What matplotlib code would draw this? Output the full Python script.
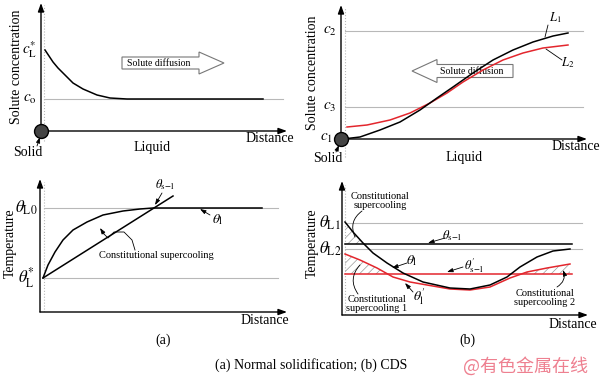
import numpy as np
import matplotlib
matplotlib.use("Agg")
from matplotlib import pyplot as plt
from matplotlib.patches import FancyArrow

plt.rcParams['font.family'] = ['Liberation Serif', 'DejaVu Serif']
plt.rcParams['mathtext.fontset'] = 'stix'
plt.rcParams['hatch.linewidth'] = 0.5

# ---- data (schematic units) ----
# (a) top: solute concentration ahead of interface
tl_dist = [4, 8, 12, 17, 22, 27, 32, 42, 56, 69, 86, 100, 222]
tl_conc = [81, 75, 69, 63, 58, 53, 48, 42, 36, 33, 32, 32, 32]
c_o = 32
c_L = 81

# (b) top: two concentration profiles
tr_dist = [2, 19, 39, 59, 79, 96, 112, 132, 152, 172, 192, 212, 227]
tr_L1 = [0, 2, 9, 17, 29, 41, 52, 66, 79, 89, 97, 103, 106]
tr_dist2 = [6, 26, 49, 69, 89, 106, 122, 142, 162, 182, 202, 227]
tr_L2 = [12, 14, 19, 26, 36, 46, 57, 69, 79, 86, 91, 94]
c_2 = 108
c_3 = 32

# (a) bottom: liquidus temperature vs actual temperature
bl_dist = [3, 8, 15, 23, 33, 47, 63, 83, 100, 113, 222]
bl_liq = [34, 47, 60, 72, 82, 90, 97, 101, 103, 104, 104]
bl_grad_x = [3, 133]
bl_grad_y = [34, 116]
theta_L0 = 104
theta_Ls = 34

# (b) bottom
br_dist = [3, 11, 21, 31, 45, 61, 81, 108, 128, 148, 165, 178, 195, 211, 228]
br_l1 = [93, 83, 72, 62, 52, 42, 33, 27, 26, 30, 38, 48, 58, 64, 66]
br_dist2 = [3, 18, 35, 51, 68, 85, 108, 128, 148, 168, 185, 205, 228]
br_l2 = [61, 55, 47, 38, 33, 30, 26, 25, 28, 37, 43, 47, 51]
theta_L1 = 92
theta_L2 = 66
theta_sl = 71
theta_sl2 = 41

RED = '#e3262d'
GREY = '#b8b8b8'

fig = plt.figure(figsize=(6, 3.81), dpi=100)


def panel(ox, oy, w, h):
    ax = fig.add_axes([ox / 600, (381 - oy) / 381, w / 600, h / 381])
    ax.set_xlim(0, w)
    ax.set_ylim(0, h)
    ax.axis('off')
    ap = dict(arrowstyle='-|>,head_width=0.18,head_length=0.5', lw=1.0,
              color='k', shrinkA=0, shrinkB=0)
    ax.annotate('', xy=(w, 0), xytext=(0, 0), arrowprops=ap, annotation_clip=False)
    ax.annotate('', xy=(0, h), xytext=(0, 0), arrowprops=ap, annotation_clip=False)
    return ax


def lead(ax, p0, p1, rad=0.0, arrow=False):
    st = '-|>,head_width=0.12,head_length=0.35' if arrow else '-'
    ax.annotate('', xy=p1, xytext=p0, annotation_clip=False,
                arrowprops=dict(arrowstyle=st, lw=0.6, color='k', shrinkA=0, shrinkB=0,
                                connectionstyle='arc3,rad=%s' % rad))


# ---------- top left ----------
ax = panel(41, 131, 246, 128)
ax.plot([3, 3], [-10, 126], ls=':', color=GREY, lw=0.8, clip_on=False)
ax.plot([3, 242], [c_o, c_o], color=GREY, lw=0.8)
ax.plot(tl_dist, tl_conc, color='k', lw=1.1)
ax.add_patch(FancyArrow(81, 68, 102, 0, width=12, head_width=22, head_length=25,
                        length_includes_head=True, fc='white', ec='#777777', lw=0.8))
ax.text(118, 68, 'Solute diffusion', fontsize=7, ha='center', va='center')
ax.plot(0, 0, 'o', ms=10, mfc='#444444', mec='k', clip_on=False, zorder=5)
ax.text(-11, c_L, r'$c_{\mathrm{L}}^{*}$', fontsize=11, ha='center', va='center')
ax.text(-11, c_o, r'$c_{\mathrm{o}}$', fontsize=11, ha='center', va='center')
ax.text(-24, 64, 'Solute concentration', rotation=90, fontsize=10, ha='center', va='center')
ax.text(229, -8, 'Distance', fontsize=10, ha='center', va='center')
ax.text(111, -17, 'Liquid', fontsize=10, ha='center', va='center')
ax.text(-13, -21, 'Solid', fontsize=10, ha='center', va='center')
lead(ax, (-4, -15), (-1, -6), arrow=True)

# ---------- top right ----------
ax = panel(341, 139, 246, 134)
ax.plot([4, 4], [-18, 132], ls=':', color=GREY, lw=0.8, clip_on=False)
ax.plot([4, 242], [c_2, c_2], color=GREY, lw=0.8)
ax.plot([4, 242], [c_3, c_3], color=GREY, lw=0.8)
ax.add_patch(FancyArrow(172, 68, -101, 0, width=13, head_width=23, head_length=25,
                        length_includes_head=True, fc='white', ec='#777777', lw=0.8, zorder=1))
ax.text(131, 68, 'Solute diffusion', fontsize=7, ha='center', va='center', zorder=1)
ax.plot(tr_dist2, tr_L2, color=RED, lw=1.1, zorder=2)
ax.plot(tr_dist, tr_L1, color='k', lw=1.1, zorder=3)
ax.plot(0, 0, 'o', ms=10, mfc='#444444', mec='k', clip_on=False, zorder=5)
ax.text(-11, c_2, r'$c_{2}$', fontsize=11, ha='center', va='center')
ax.text(-11, c_3, r'$c_{3}$', fontsize=11, ha='center', va='center')
ax.text(-15, 1, r'$c_{1}$', fontsize=11, ha='center', va='center')
ax.text(214, 121, r'$L_{1}$', fontsize=9, ha='center', va='center')
ax.text(227, 76, r'$L_{2}$', fontsize=9, ha='center', va='center')
lead(ax, (207, 114), (204, 102))
lead(ax, (221, 79), (205, 90))
ax.text(-28, 66, 'Solute concentration', rotation=90, fontsize=10, ha='center', va='center')
ax.text(235, -8, 'Distance', fontsize=10, ha='center', va='center')
ax.text(123, -18, 'Liquid', fontsize=10, ha='center', va='center')
ax.text(-13, -20, 'Solid', fontsize=10, ha='center', va='center')
lead(ax, (-5, -13), (-2, -6), arrow=True)

# ---------- bottom left ----------
ax = panel(40, 312, 247, 133)
ax.plot([4, 4], [0, 130], ls=':', color=GREY, lw=0.8)
ax.plot([4, 238], [theta_L0, theta_L0], color=GREY, lw=0.8)
ax.plot([4, 238], [theta_Ls, theta_Ls], color=GREY, lw=0.8)
ax.plot(bl_dist, bl_liq, color='k', lw=1.1)
ax.plot(bl_grad_x, bl_grad_y, color='k', lw=1.1)
ax.text(-14, theta_L0, r'$\theta_{\mathrm{L0}}$', fontsize=12, ha='center', va='center')
ax.text(-14, theta_Ls, r'$\theta_{\mathrm{L}}^{*}$', fontsize=12, ha='center', va='center')
ax.text(125, 127, r'$\theta_{\mathrm{s\!-\!l}}$', fontsize=9, ha='center', va='center')
lead(ax, (122, 119), (115, 107), arrow=True)
ax.text(178, 92, r'$\theta_{\mathrm{l}}$', fontsize=10, ha='center', va='center')
lead(ax, (170, 97), (160, 103), arrow=True)
ax.text(116, 56, 'Constitutional supercooling', fontsize=7.5, ha='center', va='center')
ax.plot([95, 92, 84, 74, 68, 64], [62, 72, 80, 80, 74, 78], color='k', lw=0.6, clip_on=False)
lead(ax, (64, 78), (60, 84), arrow=True)
ax.text(-30, 69, 'Temperature', rotation=90, fontsize=10, ha='center', va='center')
ax.text(225, -9, 'Distance', fontsize=10, ha='center', va='center')
ax.text(123, -28, '(a)', fontsize=10, ha='center', va='center')

# ---------- bottom right ----------
ax = panel(342, 315, 246, 134)
ax.plot([3, 3], [0, 130], ls=':', color=GREY, lw=0.8)
ax.plot([3, 240], [theta_L1, theta_L1], color=GREY, lw=0.8)
ax.plot([3, 240], [theta_L2, theta_L2], color=GREY, lw=0.8)
l1 = np.array(br_l1)
l2 = np.array(br_l2)
ax.fill_between(br_dist, np.full(len(br_dist), theta_sl), l1, where=l1 >= theta_sl,
                interpolate=True, facecolor='none', edgecolor='#999999', hatch='////', lw=0)
ax.fill_between(br_dist2, np.full(len(br_dist2), theta_sl2), l2, where=l2 >= theta_sl2,
                interpolate=True, facecolor='none', edgecolor='#999999', hatch='////', lw=0)
ax.plot([3, 230], [theta_sl, theta_sl], color='k', lw=1.1)
ax.plot([3, 230], [theta_sl2, theta_sl2], color=RED, lw=1.1)
ax.plot(br_dist2, br_l2, color=RED, lw=1.1)
ax.plot(br_dist, br_l1, color='k', lw=1.1)
ax.text(-12, theta_L1, r'$\theta_{\mathrm{L1}}$', fontsize=12, ha='center', va='center')
ax.text(-12, theta_L2, r'$\theta_{\mathrm{L2}}$', fontsize=12, ha='center', va='center')
ax.text(38, 114, 'Constitutional\nsupercooling', fontsize=7.5, ha='center', va='center',
        linespacing=1.0)
lead(ax, (20, 104), (13, 78), rad=0.4)
ax.text(110, 79, r'$\theta_{\mathrm{s\!-\!l}}$', fontsize=9, ha='center', va='center')
lead(ax, (103, 77), (86, 72), arrow=True)
ax.text(70, 54, r'$\theta_{\mathrm{l}}$', fontsize=10, ha='center', va='center')
lead(ax, (65, 52), (50, 47), arrow=True)
ax.text(132, 49, r"$\theta^{\prime}_{\mathrm{s\!-\!l}}$", fontsize=9, ha='center', va='center')
lead(ax, (121, 48), (105, 43), arrow=True)
ax.text(77, 18, r"$\theta^{\prime}_{\mathrm{l}}$", fontsize=10, ha='center', va='center')
lead(ax, (71, 23), (63, 32), arrow=True)
ax.text(35, 11, 'Constitutional\nsupercooling 1', fontsize=7.5, ha='center', va='center',
        linespacing=1.0)
lead(ax, (16, 21), (18, 50), rad=-0.4)
ax.text(203, 17, 'Constitutional\nsupercooling 2', fontsize=7.5, ha='center', va='center',
        linespacing=1.0)
lead(ax, (215, 28), (221, 45), rad=0.4, arrow=True)
ax.text(-30, 72, 'Temperature', rotation=90, fontsize=10, ha='center', va='center')
ax.text(231, -9, 'Distance', fontsize=10, ha='center', va='center')
ax.text(125, -25, '(b)', fontsize=10, ha='center', va='center')

# caption + watermark
fig.text(311 / 600, 1 - 365 / 381, '(a) Normal solidification; (b) CDS', fontsize=10,
         ha='center', va='center')
fig.text(526 / 600, 1 - 366 / 381, '@有色金属在线', fontsize=13, color='#ee8090',
         ha='center', va='center', family=['Noto Sans CJK SC', 'DejaVu Sans'])

fig.savefig('out.png', dpi=100)
